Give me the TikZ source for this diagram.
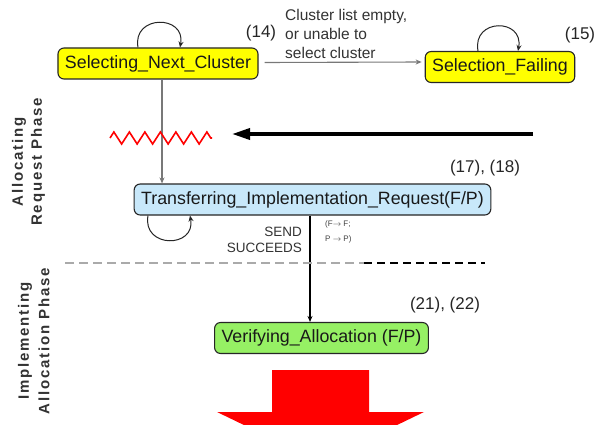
\documentclass[tikz,border=0pt]{standalone}
\usepackage{fontspec}
\setmainfont{Liberation Sans}
\newfontfamily\phasefont[LetterSpace=12]{Liberation Sans}
\usetikzlibrary{arrows.meta,decorations.pathmorphing}
\definecolor{stateyellow}{RGB}{255,255,0}
\definecolor{stateblue}{RGB}{200,232,250}
\definecolor{stategreen}{RGB}{150,240,100}
\definecolor{linegray}{RGB}{120,120,120}
\definecolor{dashgray}{RGB}{170,170,170}
\tikzset{
  statebox/.style={draw=black!85, line width=1.1pt, rounded corners=6pt,
    minimum height=31pt, inner xsep=7pt, inner ysep=2pt,
    font=\fontsize{17.8}{20}\selectfont, text=black!90},
  looparrow/.style={draw=black!85, line width=1pt, -{Stealth[length=6pt,width=5pt]}},
  flowarrow/.style={line width=1.1pt, -{Stealth[length=6pt,width=5pt]}},
  reflabel/.style={font=\fontsize{17}{20}\selectfont, text=black!85},
  phaselabel/.style={font=\phasefont\bfseries\fontsize{15}{17}\selectfont, text=black!80, rotate=90},
  smalllabel/.style={font=\fontsize{15.5}{19}\selectfont, text=black!80, align=left},
}
\begin{document}
\begin{tikzpicture}[x=1pt,y=-1pt]
\useasboundingbox (0,0) rectangle (597,425);
\clip (0,0) rectangle (597,425);
\fill[white] (0,0) rectangle (597,425);

% states
\node[statebox, fill=stateyellow] (snc) at (158,63.5) {Selecting\_Next\_Cluster};
\node[statebox, fill=stateyellow] (sf) at (500,67) {Selection\_Failing};
\node[statebox, fill=stateblue] (tir) at (312.5,199.5) {Transferring\_Implementation\_Request(F/P)};
\node[statebox, fill=stategreen] (va) at (321.5,338) {Verifying\_Allocation (F/P)};

% self loops
\draw[looparrow] ([xshift=-20pt]snc.north) .. controls +(-6,-33) and +(6,-33) .. ([xshift=22pt]snc.north);
\draw[looparrow] ([xshift=-22pt]sf.north) .. controls +(-6,-33) and +(6,-33) .. ([xshift=18pt]sf.north);
\draw[looparrow] ([xshift=-164.5pt]tir.south) .. controls +(-6,33) and +(6,33) .. ([xshift=-122.5pt]tir.south);

% transitions
\draw[flowarrow, draw=linegray] ([xshift=6pt,yshift=1pt]snc.east) -- ([xshift=-3pt]sf.west |- 0,62);
\draw[flowarrow, draw=linegray] ([xshift=4pt]snc.south) -- ([xshift=4pt]snc.south |- tir.north);
\draw[flowarrow, draw=black] ([xshift=-2.5pt]tir.south) -- ([xshift=-2.5pt]tir.south |- va.north);

% labels
\node[reflabel] (l14) at (261,33) {(14)};
\node[reflabel] (l15) at (580,35) {(15)};
\node[reflabel] (l1718) at (485,168) {(17), (18)};
\node[reflabel] (l2122) at (445,305) {(21), (22)};
\node[smalllabel, anchor=west, inner sep=0pt] (cond) at (285,34) {Cluster list empty,\\or unable to\\select cluster};
\node[font=\fontsize{13.5}{16}\selectfont, text=black!80, align=right, anchor=east, inner sep=0pt] (send) at (302,240) {SEND\\SUCCEEDS};
\node[font=\fontsize{8}{15}\selectfont, text=black!75, align=left, anchor=west, inner sep=0pt] (fp) at (325,231.5) {(F$\to$ F;\\P $\to$ P)};

% phase labels
\node[phaselabel] (ph1a) at (19,162) {Allocating};
\node[phaselabel] (ph1b) at (38,162) {Request Phase};
\node[phaselabel] (ph2a) at (25,341) {Implementing};
\node[phaselabel] (ph2b) at (44,341) {Allocation Phase};

% phase separator
\coordinate (d0) at (65,263);
\coordinate (d1) at (364,263);
\coordinate (d2) at (485,263);
\draw[dashgray, line width=2pt, dash pattern=on 9pt off 5pt] (d0) -- (d1);
\draw[black, line width=1.5pt, dash pattern=on 8pt off 5pt] (d1) -- (d2);

% red zigzag
\coordinate (z0) at (110,138);
\coordinate (z1) at (212,138);
\draw[red, line width=1.6pt, decorate, decoration={zigzag, segment length=15.5pt, amplitude=6pt}] (z0) -- (z1);

% big black arrow
\coordinate (bs) at (533,134);
\coordinate (be) at (232,134);
\draw[black, line width=3.5pt, -{Triangle[length=18pt,width=11pt]}] (bs) -- (be);

% big red arrow
\fill[red] (272,370) -- (369,370) -- (369,412) -- (424,412) -- (320.5,462) -- (217,412) -- (272,412) -- cycle;
\end{tikzpicture}
\end{document}
